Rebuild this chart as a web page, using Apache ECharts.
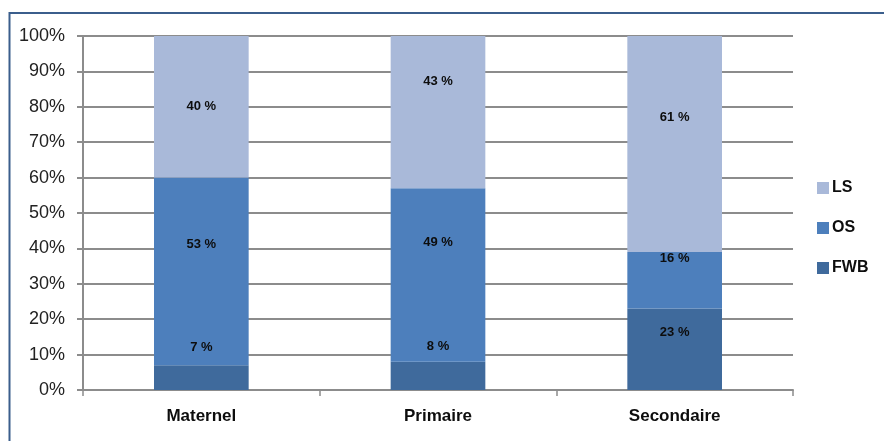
<!DOCTYPE html>
<html>
<head>
<meta charset="utf-8">
<script src="https://cdn.jsdelivr.net/npm/echarts@6/dist/echarts.min.js"></script>
<style>
html,body{margin:0;padding:0;background:#fff;}
#c{width:884px;height:441px;}
</style>
</head>
<body>
<div id="c"></div>
<script>
var categories = ['Maternel', 'Primaire', 'Secondaire'];
var FWB = [7, 8, 23];
var OS = [53, 49, 16];
var LS = [40, 43, 61];
var yTicks = [0, 10, 20, 30, 40, 50, 60, 70, 80, 90, 100];

var FONT = "'Liberation Sans Narrow', 'Liberation Sans', sans-serif";
// label vertical nudges (px), mimic Excel placement
var shifts = {
  FWB: [-30, -29, -17],
  OS: [-27, -33, -22],
  LS: [0, -31, -27]
};
function build(name, vals, color) {
  return {
    name: name,
    type: 'bar',
    stack: 'total',
    barWidth: '40%',
    itemStyle: { color: color },
    data: vals.map(function (v, i) {
      return {
        value: v,
        label: { offset: [0, shifts[name][i]] }
      };
    }),
    label: {
      show: true,
      position: 'inside',
      formatter: '{c} %',
      color: '#0d0d0d',
      fontWeight: 'bold',
      fontSize: 13,
      fontFamily: FONT
    }
  };
}

var chart = echarts.init(document.getElementById('c'), null, { renderer: 'canvas' });
chart.setOption({
  animation: false,
  backgroundColor: '#fff',
  grid: { left: 83, right: 91, top: 36, bottom: 51, containLabel: false },
  legend: {
    orient: 'vertical',
    left: 817,
    top: 180,
    itemGap: 24,
    itemWidth: 12,
    itemHeight: 12,
    padding: 0,
    icon: 'rect',
    data: ['LS', 'OS', 'FWB'],
    textStyle: { fontFamily: FONT, fontWeight: 'bold', fontSize: 16, color: '#0d0d0d', padding: [0, 0, 0, -2] }
  },
  xAxis: {
    type: 'category',
    data: categories,
    axisLine: { lineStyle: { color: '#8c8c8c', width: 2 } },
    axisTick: { show: true, length: 6, lineStyle: { color: '#8c8c8c', width: 1.5 } },
    axisLabel: { margin: 18, fontFamily: FONT, fontWeight: 'bold', fontSize: 17, color: '#0d0d0d' }
  },
  yAxis: {
    type: 'value',
    min: 0,
    max: 100,
    interval: 10,
    axisLine: { show: true, lineStyle: { color: '#8c8c8c', width: 2 } },
    axisTick: { show: true, length: 6, lineStyle: { color: '#8c8c8c', width: 2 } },
    splitLine: { lineStyle: { color: '#8c8c8c', width: 2 } },
    axisLabel: {
      margin: 18,
      fontFamily: FONT,
      fontSize: 18,
      color: '#222',
      formatter: function (v) { return yTicks.indexOf(v) >= 0 ? v + '%' : ''; }
    }
  },
  graphic: [{
    type: 'rect',
    shape: { x: 9.5, y: 13, width: 900, height: 500 },
    style: { fill: null, stroke: '#3b5e8c', lineWidth: 2 },
    silent: true
  }],
  series: [
    build('FWB', FWB, '#3f6a9c'),
    build('OS', OS, '#4d7fbc'),
    build('LS', LS, '#a9b9d9')
  ]
});
</script>
</body>
</html>
